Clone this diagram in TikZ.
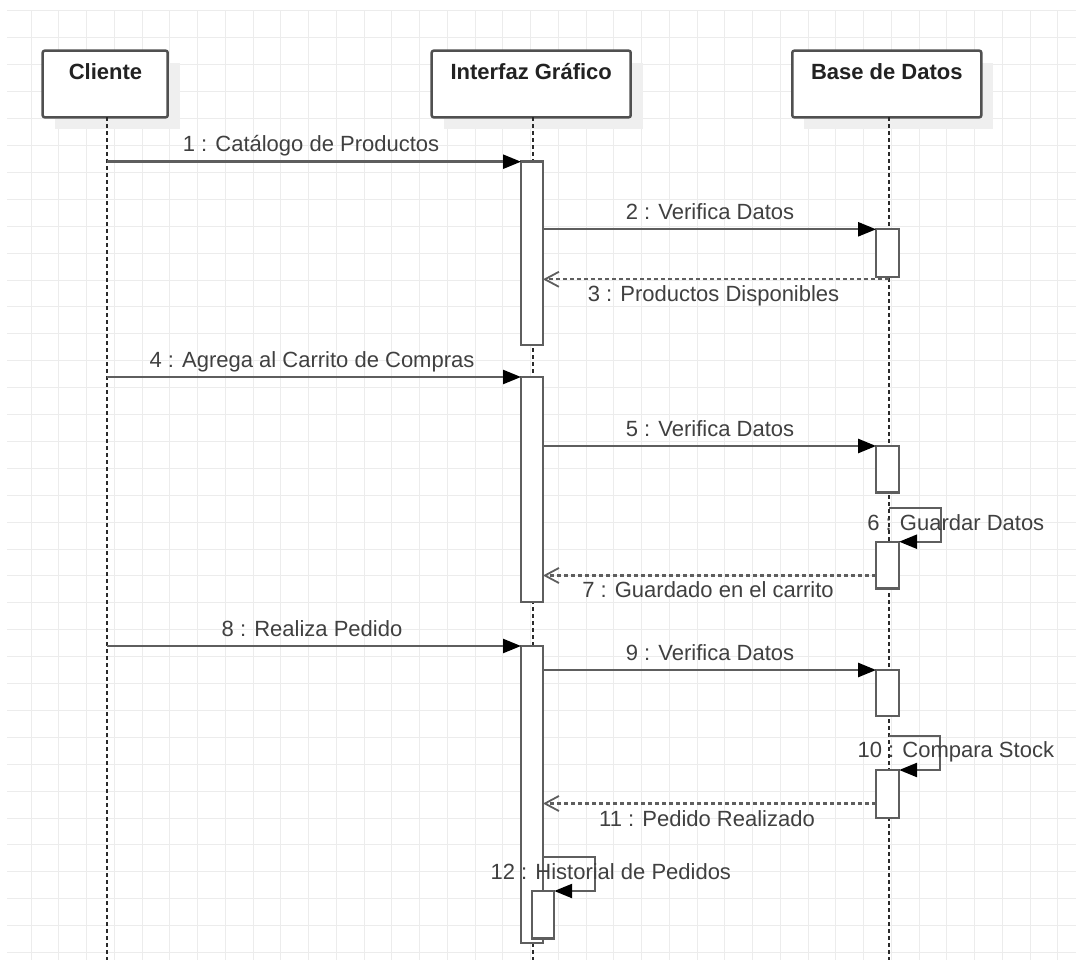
\documentclass[tikz,border=0pt]{standalone}
\usepackage{fontspec}
\setmainfont{Liberation Sans}
\usetikzlibrary{arrows.meta}
\definecolor{gridc}{HTML}{ECECEC}
\definecolor{linec}{HTML}{5E5E5E}
\definecolor{boxc}{HTML}{505050}
\definecolor{lifec}{HTML}{2A2A2A}
\definecolor{txtc}{HTML}{404040}
\definecolor{titc}{HTML}{222222}
\definecolor{shadc}{HTML}{EFEFEF}
\tikzset{
  actorbox/.style={draw=boxc, line width=2.5pt, fill=white, rounded corners=2pt, minimum height=66.6pt, inner sep=0pt, outer sep=0pt},
  titletext/.style={anchor=base, text=titc, font=\fontsize{22}{26}\selectfont\bfseries, inner sep=0pt},
  lifeline/.style={draw=lifec, line width=2pt, dash pattern=on 4pt off 3pt},
  actbar/.style={draw=linec, fill=white, line width=2.4pt, minimum width=22pt, inner sep=0pt, outer sep=0pt},
  msg/.style={draw=linec, line width=2.4pt, -{Triangle[length=18pt,width=14pt,color=black]}},
  retmsg/.style={draw=linec, line width=2.2pt, dash pattern=on 4pt off 3pt, -{Straight Barb[length=14pt,width=15pt,line width=1.8pt]}},
  msglabel/.style={anchor=base, text=txtc, font=\fontsize{22}{26}\selectfont, inner sep=0pt}
}
\begin{document}
\begin{tikzpicture}[x=1pt,y=-1pt]
\useasboundingbox (0,0) rectangle (1076,960);
\fill[white] (0,0) rectangle (1076,960);
% grid
\foreach \i in {0,...,37} { \draw[gridc, line width=1pt] ({31+27.75*\i},11) -- ({31+27.75*\i},960); }
\foreach \j in {0,...,35} { \draw[gridc, line width=1pt] (7,{11+26.9*\j}) -- (1076,{11+26.9*\j}); }

% actor boxes
\fill[shadc] (54.7,62.7) rectangle (179.7,129.3);
\fill[shadc] (443.7,62.7) rectangle (642.7,129.3);
\fill[shadc] (804.3,62.7) rectangle (993.3,129.3);
\node[actorbox, minimum width=125pt] (cliente) at (105.2,84) {};
\node[actorbox, minimum width=199pt] (interfaz) at (531.2,84) {};
\node[actorbox, minimum width=189pt] (bd) at (886.8,84) {};
\node[titletext] (tcl) at (105.5,80) {Cliente};
\node[titletext] (tif) at (531.2,80) {Interfaz Gráfico};
\node[titletext] (tbd) at (886.8,80) {Base de Datos};

% lifelines
\coordinate (lcl) at (106.7,960);
\coordinate (lif) at (533.3,960);
\coordinate (ldb) at (889,960);
\draw[lifeline] (cliente.south -| lcl) -- (lcl);
\draw[lifeline] (interfaz.south -| lif) -- (lif);
\draw[lifeline] (bd.south -| ldb) -- (ldb);

% activation bars
\node[actbar, minimum height=183.3pt] (i1) at (532,253.35) {};
\node[actbar, minimum height=225pt] (i2) at (532,489.5) {};
\node[actbar, minimum height=297pt] (i3) at (532,794.5) {};
\node[actbar, minimum height=47.3pt] (i4) at (543.2,914.65) {};
\node[actbar, minimum width=23pt, minimum height=47.4pt] (d1) at (887.6,253) {};
\node[actbar, minimum width=23pt, minimum height=46.5pt] (d2) at (887.6,469.25) {};
\node[actbar, minimum width=23pt, minimum height=46.6pt] (d3) at (887.6,565) {};
\node[actbar, minimum width=23pt, minimum height=46pt] (d4) at (887.6,693) {};
\node[actbar, minimum width=23pt, minimum height=47.7pt] (d5) at (887.6,793.85) {};

% helper coordinates
\coordinate (y3) at (0,279.3);
\coordinate (y7) at (0,575.5);
\coordinate (y11) at (0,803.5);
\coordinate (y12) at (0,856.7);
\coordinate (s6) at (889,507.7);
\coordinate (s10) at (889,735.7);

% messages
\draw[msg] (lcl |- i1.north) -- (i1.north west);
\draw[msg] (i1.east |- d1.north) -- (d1.north west);
\draw[retmsg] (ldb |- y3) -- (i1.east |- y3);
\draw[msg] (lcl |- i2.north) -- (i2.north west);
\draw[msg] (i2.east |- d2.north) -- (d2.north west);
\draw[msg] (s6) -- ++(51.7,0) |- (d3.north east);
\draw[retmsg] (d3.west |- y7) -- (i2.east |- y7);
\draw[msg] (lcl |- i3.north) -- (i3.north west);
\draw[msg] (i3.east |- d4.north) -- (d4.north west);
\draw[msg] (s10) -- ++(51,0) |- (d5.north east);
\draw[retmsg] (d5.west |- y11) -- (i3.east |- y11);
\draw[msg] (i3.east |- y12) -- ++(52,0) |- (i4.north east);

% labels
\node[msglabel] (t1) at (311,151.7) {1 : Catálogo de Productos};
\node[msglabel] (t2) at (710,219.5) {2 : Verifica Datos};
\node[msglabel] (t3) at (713.5,301.7) {3 : Productos Disponibles};
\node[msglabel] (t4) at (312,367.3) {4 : Agrega al Carrito de Compras};
\node[msglabel] (t5) at (710,436) {5 : Verifica Datos};
\node[msglabel] (t6) at (955.8,530) {6 : Guardar Datos};
\node[msglabel] (t7) at (708,597.3) {7 : Guardado en el carrito};
\node[msglabel] (t8) at (312,636) {8 : Realiza Pedido};
\node[msglabel] (t9) at (710,660) {9 : Verifica Datos};
\node[msglabel] (t10) at (955.8,757.3) {10 : Compara Stock};
\node[msglabel] (t11) at (707,826.7) {11 : Pedido Realizado};
\node[msglabel] (t12) at (610.8,879.3) {12 : Historial de Pedidos};
\end{tikzpicture}
\end{document}
